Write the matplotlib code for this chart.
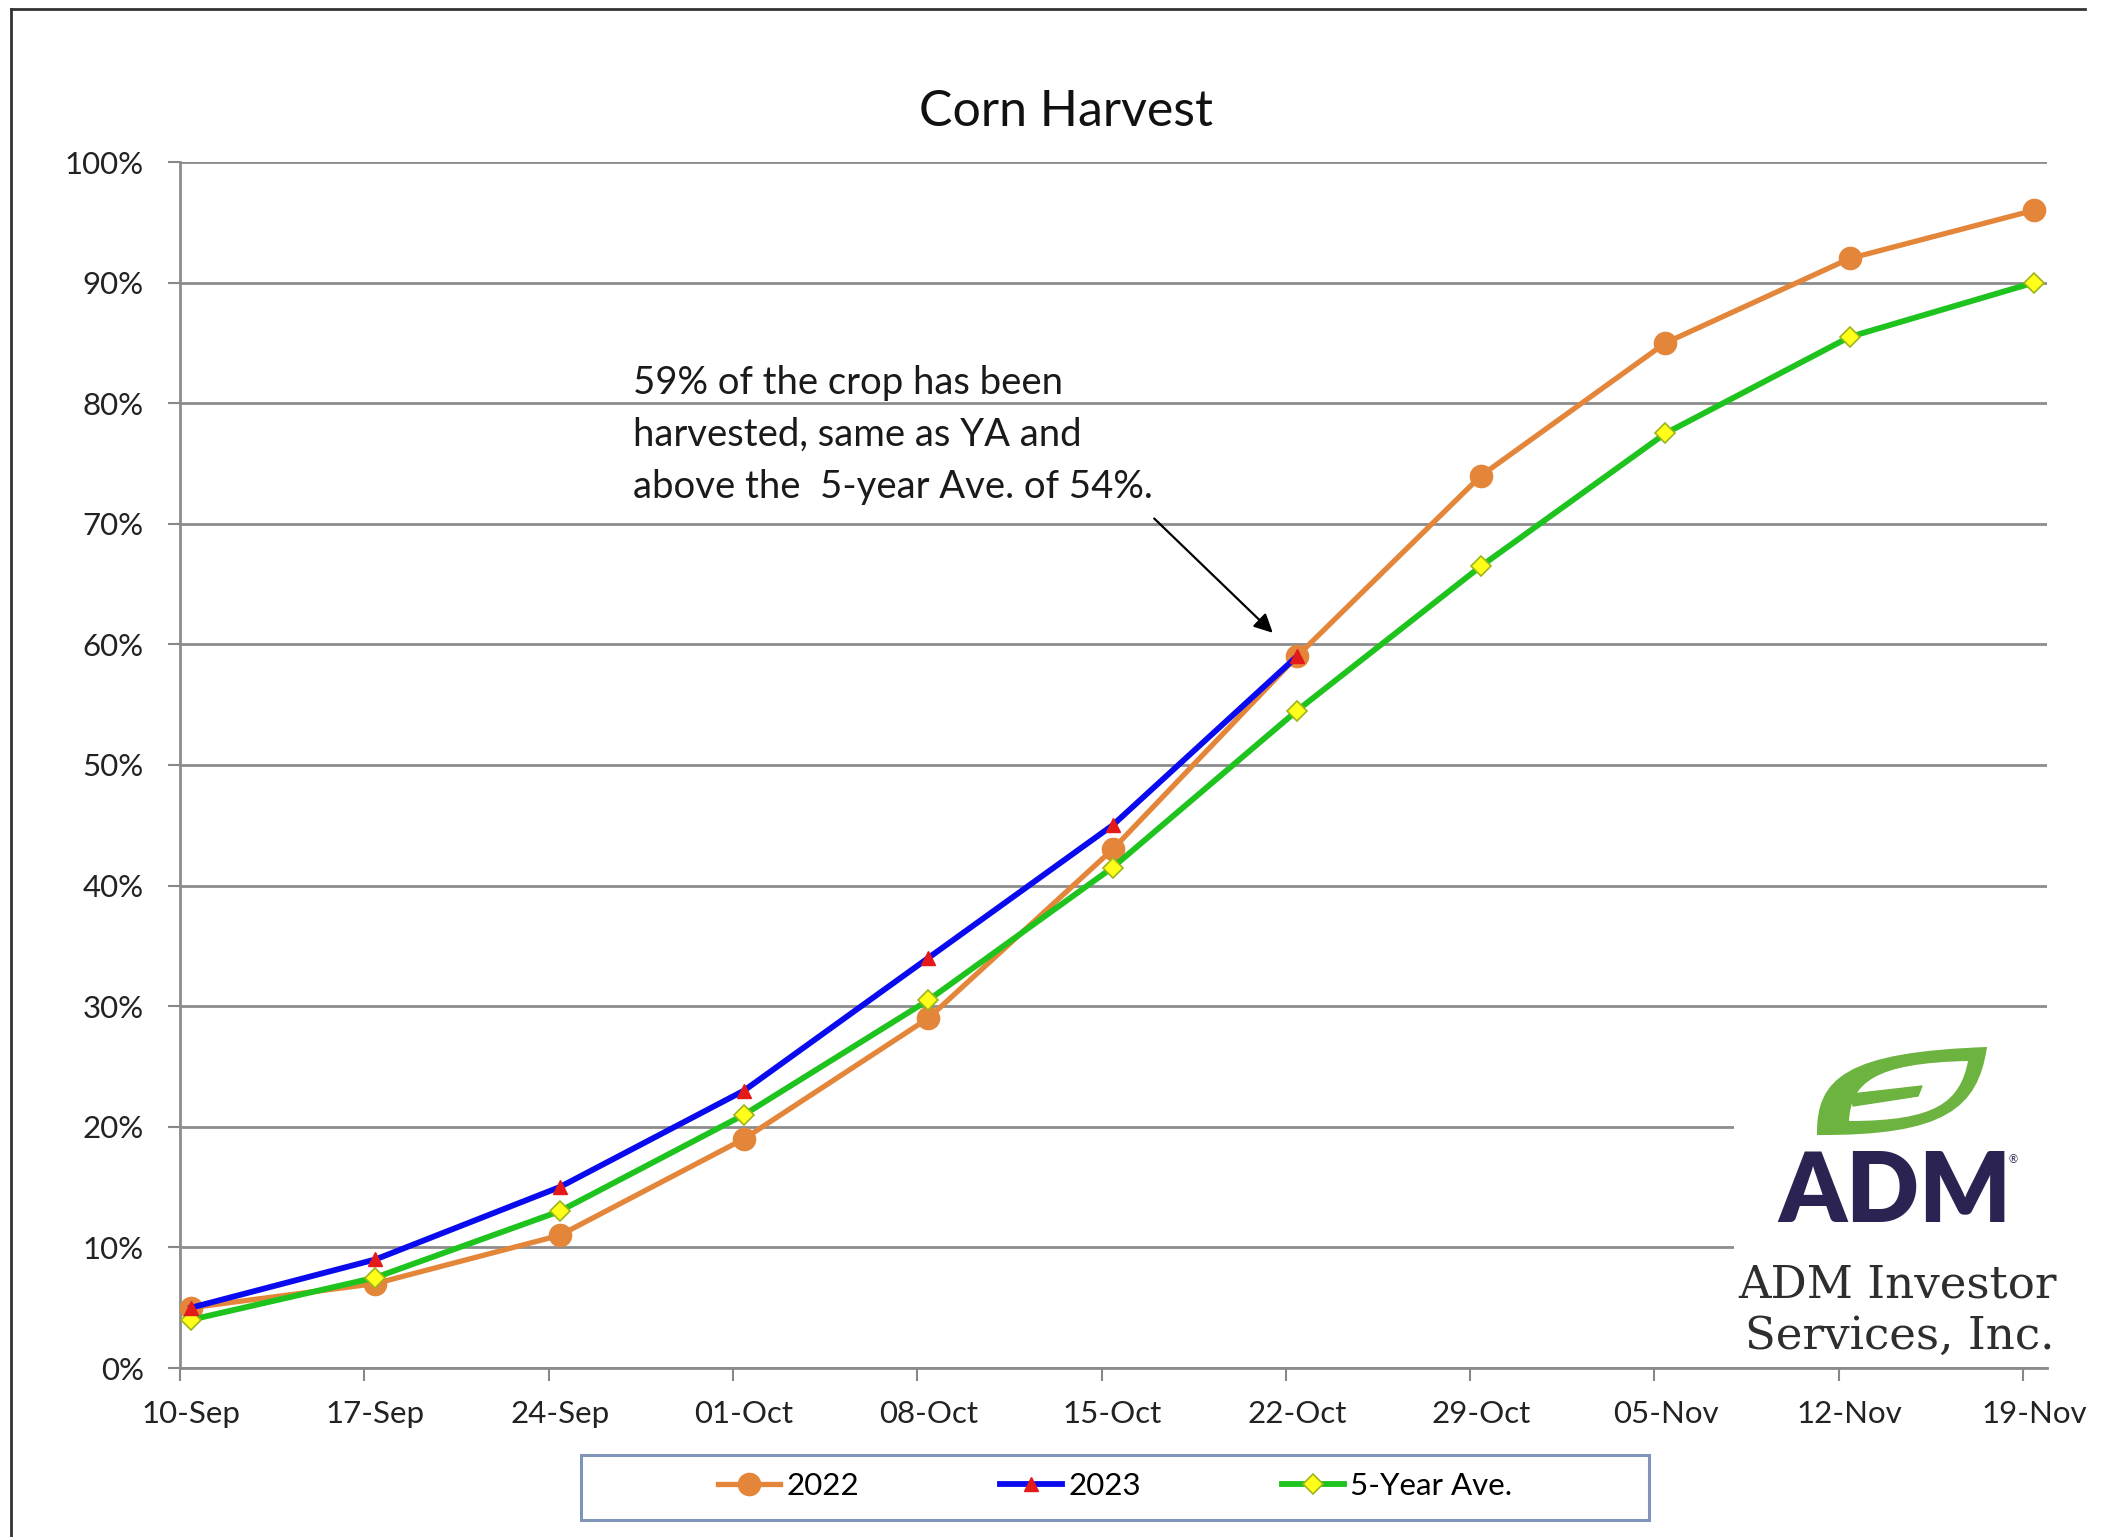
import matplotlib
matplotlib.use("Agg")
from matplotlib import pyplot as plt
from matplotlib.patches import Polygon, Rectangle, PathPatch
from matplotlib.path import Path
from matplotlib.lines import Line2D
import numpy as np

# weekly harvest progress (% of crop harvested)
weeks = ['10-Sep', '17-Sep', '24-Sep', '01-Oct', '08-Oct', '15-Oct',
         '22-Oct', '29-Oct', '05-Nov', '12-Nov', '19-Nov']
y2022 = [5, 7, 11, 19, 29, 43, 59, 74, 85, 92, 96]
y2023 = [5, 9, 15, 23, 34, 45, 59]
y5yr = [4, 7.5, 13, 21, 30.5, 41.5, 54.5, 66.5, 77.5, 85.5, 90]
yticks = [0, 10, 20, 30, 40, 50, 60, 70, 80, 90, 100]

W, H = 2119, 1537
plt.rcParams['font.family'] = ['Lato', 'DejaVu Sans']
fig = plt.figure(figsize=(W / 100, H / 100), dpi=100)
fig.patch.set_facecolor('white')

ax = fig.add_axes([180 / W, 1 - 1368 / H, (2047 - 180) / W, (1368 - 162) / H])
x = np.arange(len(weeks))

ax.plot(x, y2022, color='#E4863A', lw=3.8, marker='o', ms=16,
        mfc='#E4863A', mec='#E4863A', label='2022', zorder=3)
ax.plot(x[:len(y2023)], y2023, color='#0A0AEE', lw=4.2, marker='^', ms=10,
        mfc='#E41A1A', mec='#E41A1A', label='2023', zorder=4)
ax.plot(x, y5yr, color='#1EC31E', lw=4.2, marker='D', ms=10,
        mfc='#FFFF1A', mec='#9DB51A', mew=1.2, label='5-Year Ave.', zorder=3)

ax.set_xlim(-0.06, 10.07)
ax.set_ylim(0, 100)
ax.set_yticks(yticks)
ax.set_yticklabels([f'{v}%' for v in yticks], fontsize=22.5, color='#222222')
ax.set_xticks(x)
ax.set_xticklabels(weeks, fontsize=22.5, color='#222222')
ax.set_xticks(x - 0.06, minor=True)
ax.tick_params(axis='x', which='major', length=0, pad=23)
ax.tick_params(axis='x', which='minor', length=9, width=1.5, color='#888888', direction='out')
ax.tick_params(axis='y', length=9, width=1.5, color='#888888', direction='out', pad=17)
ax.grid(axis='y', color='#8C8C8C', lw=2)
ax.set_axisbelow(True)
for s in ['top', 'right']:
    ax.spines[s].set_visible(False)
for s in ['left', 'bottom']:
    ax.spines[s].set_color('#8C8C8C')
    ax.spines[s].set_linewidth(2)

fig.text(1066 / W, 1 - 112 / H, 'Corn Harvest', fontsize=36, ha='center', va='center', color='#111111')

ax.text(2.40, 83.2, '59% of the crop has been\nharvested, same as YA and\nabove the  5-year Ave. of 54%.',
        fontsize=27.5, va='top', ha='left', linespacing=1.55, color='#1a1a1a')
ax.annotate('', xy=(5.88, 60.8), xytext=(5.215, 70.6),
            arrowprops=dict(arrowstyle='-|>', lw=1.6, color='black', mutation_scale=28))

# legend with its own frame
fig.add_artist(Rectangle((581 / W, 1 - 1520 / H), 1068 / W, 65 / H, transform=fig.transFigure,
                         facecolor='white', edgecolor='#8094B8', lw=2.2))
fig.legend(loc='center', bbox_to_anchor=(1115 / W, 1 - 1486 / H), ncol=3, frameon=False,
           fontsize=22.5, handlelength=2.0, handletextpad=0.2, columnspacing=4.5)

# outer border
fig.add_artist(Line2D([11 / W, 11 / W], [0, 1 - 9 / H], transform=fig.transFigure, color='#333333', lw=2))
fig.add_artist(Line2D([11 / W, 2085 / W], [1 - 9 / H, 1 - 9 / H], transform=fig.transFigure, color='#333333', lw=2))

# logo
lx0, lx1, ly0, ly1 = 1734, 2068, 1047, 1365
lax = fig.add_axes([lx0 / W, 1 - ly1 / H, (lx1 - lx0) / W, (ly1 - ly0) / H], zorder=5)
lax.set_xlim(lx0, lx1)
lax.set_ylim(ly1, ly0)
lax.axis('off')
lax.add_patch(Rectangle((lx0, ly0), lx1 - lx0, ly1 - ly0, facecolor='white', edgecolor='none'))
C4 = Path.CURVE4
leaf = Path([(1817, 1135), (1816, 1078), (1846, 1052), (1987, 1047),
             (1978, 1108), (1945, 1136), (1817, 1135), (1817, 1135)],
            [Path.MOVETO, C4, C4, C4, C4, C4, C4, Path.CLOSEPOLY])
hole = Path([(1849, 1121), (1851, 1083), (1874, 1063), (1968, 1061),
             (1960, 1102), (1936, 1121), (1849, 1121), (1849, 1121)],
            [Path.MOVETO, C4, C4, C4, C4, C4, C4, Path.CLOSEPOLY])
vein = [(1852, 1094), (1922, 1086), (1918, 1096), (1853, 1106)]
lax.add_patch(PathPatch(leaf, facecolor='#6DB33F', edgecolor='none'))
lax.add_patch(PathPatch(hole, facecolor='white', edgecolor='none'))
lax.add_patch(Polygon(vein, closed=True, facecolor='#6DB33F', edgecolor='#6DB33F', lw=1))
lax.text(1895, 1222, 'ADM', fontsize=69, fontweight='heavy', color='#2B2452', ha='center', va='baseline')
lax.text(2013, 1160, '®', fontsize=8, color='#2B2452', ha='center', va='center')
lax.text(1898, 1297, 'ADM Investor', fontsize=32.5, family='DejaVu Serif', color='#2E2E2E', ha='center', va='baseline')
lax.text(1900, 1349, 'Services, Inc.', fontsize=32.5, family='DejaVu Serif', color='#2E2E2E', ha='center', va='baseline')

fig.savefig('out.png', dpi=100, facecolor='white')
